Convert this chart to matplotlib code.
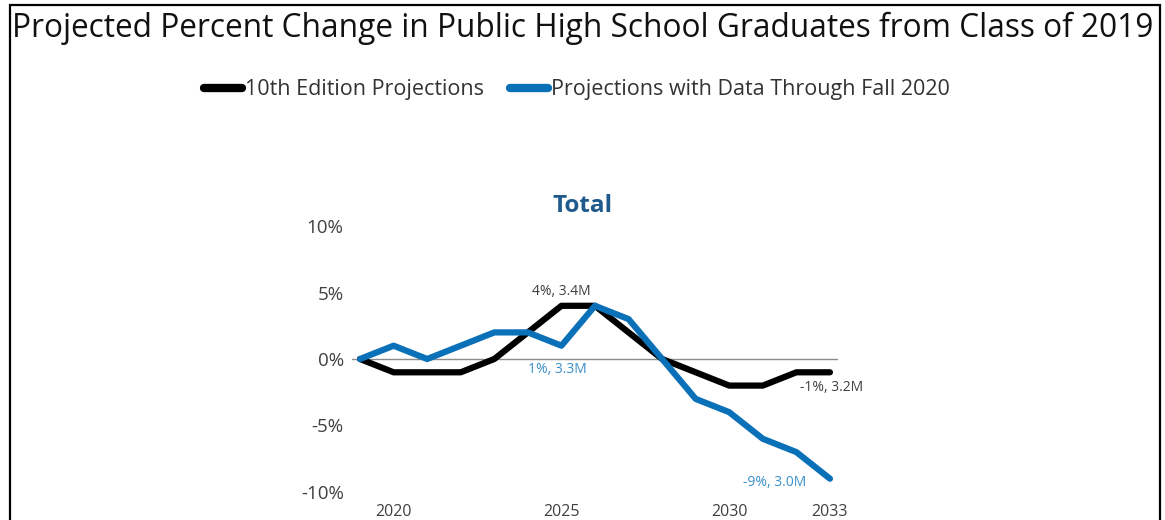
import matplotlib
matplotlib.use("Agg")
import matplotlib.pyplot as plt
from matplotlib.lines import Line2D
from matplotlib.patches import Rectangle

plt.rcParams['font.family'] = ['Open Sans', 'DejaVu Sans']

# ---- data ----
years = list(range(2019, 2034))
tenth_edition = [0, -1, -1, -1, 0, 2, 4, 4, 2, 0, -1, -2, -2, -1, -1]
fall_2020 = [0, 1, 0, 1, 2, 2, 1, 4, 3, 0, -3, -4, -6, -7, -9]
series_names = ["10th Edition Projections", "Projections with Data Through Fall 2020"]
xtick_years = [2020, 2025, 2030, 2033]
ytick_vals = [-10, -5, 0, 5, 10]
ytick_labels = ["-10%", "-5%", "0%", "5%", "10%"]
callouts = [  # (series, year, label)
    ("tenth", 2025, "4%, 3.4M"),
    ("fall", 2025, "1%, 3.3M"),
    ("tenth", 2033, "-1%, 3.2M"),
    ("fall", 2033, "-9%, 3.0M"),
]

BLACK = "#000000"
BLUE = "#0a70b8"
BLUE_TXT = "#3a8fc8"
TXT = "#404040"

W, H = 1165, 520
fig = plt.figure(figsize=(W / 100, H / 100), dpi=100)
fig.patch.set_facecolor("white")

L, R, T, B = 352, 838, 226, 492
ax = fig.add_axes([L / W, 1 - B / H, (R - L) / W, (B - T) / H])
ax.set_xlim(2018.76, 2033.24)
ax.set_ylim(-10, 10)
for s in ax.spines.values():
    s.set_visible(False)
ax.axhline(0, color="#8c8c8c", lw=1.0, zorder=1)

ax.plot(years, tenth_edition, color=BLACK, lw=4.5, solid_capstyle="round",
        solid_joinstyle="round", zorder=3)
ax.plot(years, fall_2020, color=BLUE, lw=4.5, solid_capstyle="round",
        solid_joinstyle="round", zorder=4)

ax.set_xticks(xtick_years)
ax.set_xticklabels([str(y) for y in xtick_years])
ax.set_yticks(ytick_vals)
ax.set_yticklabels(ytick_labels)
ax.tick_params(axis="x", length=0, pad=9, labelsize=11.5, labelcolor=TXT)
ax.tick_params(axis="y", length=0, pad=6, labelsize=13.5, labelcolor=TXT)

lookup = {"tenth": tenth_edition, "fall": fall_2020}
offsets = {
    ("tenth", 2025): ((0, 10), "center", "center", TXT),
    ("fall", 2025): ((-3, -17), "center", "center", BLUE_TXT),
    ("tenth", 2033): ((1.5, -11), "center", "center", TXT),
    ("fall", 2033): ((-17, -3), "right", "center", BLUE_TXT),
}
for key, yr, lab in callouts:
    val = lookup[key][years.index(yr)]
    (dx, dy), ha, va, col = offsets[(key, yr)]
    ax.annotate(lab, xy=(yr, val), xytext=(dx, dy), textcoords="offset points",
                ha=ha, va=va, fontsize=10, color=col, zorder=5)

fig.text(583 / W, 1 - 206 / H, "Total", ha="center", va="center",
         fontsize=17.5, fontweight="bold", color="#1f5a8c")

fig.text(12 / W, 1 - 37 / H,
         "Projected Percent Change in Public High School Graduates from Class of 2019",
         ha="left", va="baseline", fontsize=22.8, color="#111111")

handles = [Line2D([0], [0], color=BLACK, lw=6, solid_capstyle="round"),
           Line2D([0], [0], color=BLUE, lw=6, solid_capstyle="round")]
fig.legend(handles, series_names, loc="center", bbox_to_anchor=(577 / W, 1 - 90 / H),
           ncol=2, frameon=False, fontsize=15.5, handlelength=1.75, handletextpad=0.15,
           columnspacing=1.2, labelcolor="#333333")

fig.add_artist(Rectangle((10 / W, -0.05), (1160 - 10) / W, 1 - 5 / H + 0.05,
                         transform=fig.transFigure, fill=False, ec="black", lw=1.6))

fig.savefig("out.png", dpi=100, facecolor="white")
